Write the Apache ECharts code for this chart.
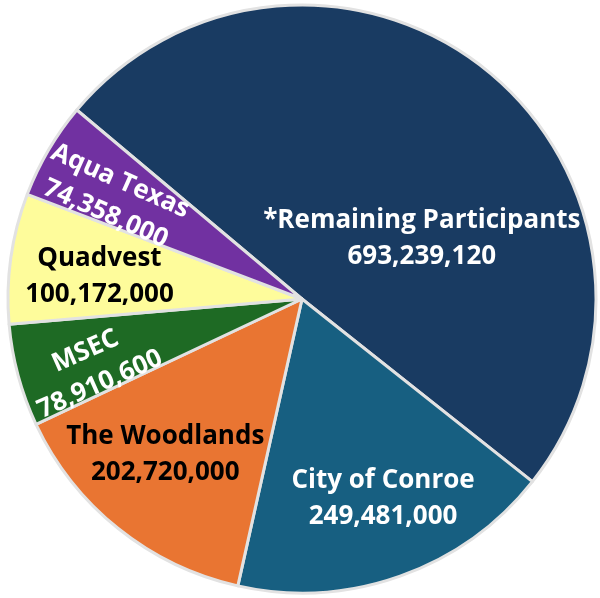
<!DOCTYPE html>
<html>
<head>
<meta charset="utf-8">
<script src="https://cdn.jsdelivr.net/npm/echarts@6/dist/echarts.min.js"></script>
<style>
  html, body { margin: 0; padding: 0; background: #fff; }
  #chart { width: 600px; height: 598px; }
</style>
</head>
<body>
<div id="chart"></div>
<script>
  // slice data, clockwise from the upper left
  var names = ['*Remaining Participants', 'City of Conroe', 'The Woodlands', 'MSEC', 'Quadvest', 'Aqua Texas']
  var values = [693239120, 249481000, 202720000, 78910600, 100172000, 74358000]
  var colors = ['#193b62', '#175f81', '#e97532', '#1e6a24', '#fefc9b', '#7131a1']
  var labelColors = ['#fff', '#fff', '#000', '#fff', '#000', '#fff']

  // label nudges from the default inside spot (dx, dy, rotate)
  var labelNudge = [
    [25, 56, 0],
    [31, 58, 0],
    [-43, 39, 0],
    [-71, 1, 24],
    [-54, -2, 0],
    [-65, 1, -24]
  ]

  var chart = echarts.init(document.getElementById('chart'))

  var fmt = function (v) {
    return String(v).replace(/\B(?=(\d{3})+(?!\d))/g, ',')
  }

  chart.setOption({
    animation: false,
    series: [{
      type: 'pie',
      center: [302, 299],
      radius: [0, 294],
      startAngle: 140,
      clockwise: true,
      avoidLabelOverlap: false,
      itemStyle: {
        borderColor: '#e2e2e2',
        borderWidth: 3
      },
      label: {
        show: true,
        position: 'inside',
        fontFamily: 'Open Sans',
        fontWeight: 'bold',
        fontSize: 26,
        lineHeight: 36,
        formatter: function (p) {
          return p.name + '\n' + fmt(p.value)
        }
      },
      labelLine: { show: false },
      labelLayout: function (p) {
        var n = labelNudge[p.dataIndex]
        return { dx: n[0], dy: n[1], rotate: n[2] }
      },
      data: names.map(function (n, i) {
        return {
          name: n,
          value: values[i],
          itemStyle: { color: colors[i] },
          label: { color: labelColors[i] }
        }
      })
    }]
  })
</script>
</body>
</html>
